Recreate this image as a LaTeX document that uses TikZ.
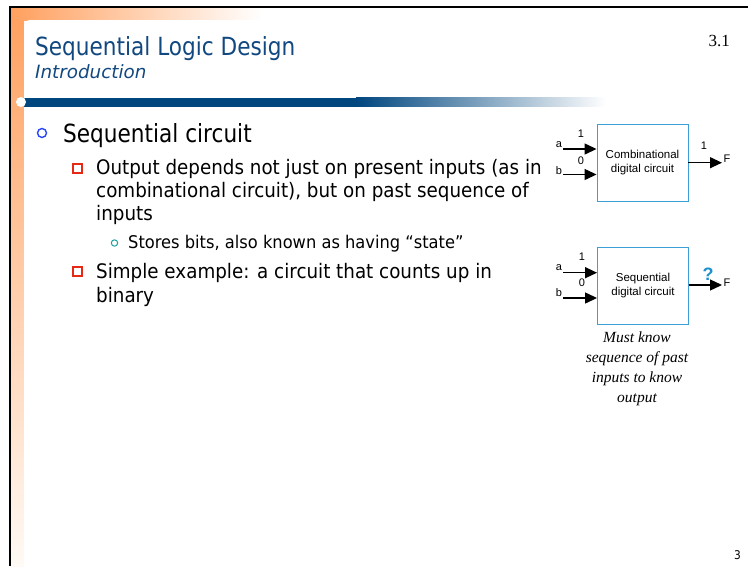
\documentclass[tikz,border=0pt]{standalone}
\usepackage{fontspec}
\setmainfont{DejaVu Sans}[FakeStretch=0.88]
\newfontfamily\headfont{DejaVu Sans}[FakeStretch=0.865]
\newfontfamily\subheadfont{DejaVu Sans}
\newfontfamily\bodyfont{DejaVu Sans}[FakeStretch=0.915]
\newfontfamily\smallbodyfont{DejaVu Sans}[FakeStretch=0.93]
\newfontfamily\arialfont{Liberation Sans}
\newfontfamily\timesfont{Liberation Serif}
\usetikzlibrary{arrows.meta}

\definecolor{orgA}{RGB}{255,160,95}
\definecolor{orgB}{RGB}{255,250,245}
\definecolor{barblue}{RGB}{0,70,127}
\definecolor{titleblue}{RGB}{17,72,128}
\definecolor{bulletblue}{RGB}{40,70,250}
\definecolor{bulletred}{RGB}{230,40,20}
\definecolor{bulletteal}{RGB}{30,160,160}
\definecolor{boxblue}{RGB}{60,160,215}
\definecolor{qblue}{RGB}{30,145,205}

\tikzset{
  txt/.style={anchor=base west, inner sep=0pt, text=black},
  lvlone/.style={txt, font=\headfont\fontsize{25}{30}\selectfont},
  lvltwo/.style={txt, font=\bodyfont\fontsize{20}{24}\selectfont},
  lvlthree/.style={txt, font=\smallbodyfont\fontsize{17.5}{21}\selectfont},
  sqbullet/.style={draw=bulletred, fill=white, line width=1.6pt},
  cbox/.style={draw=boxblue, line width=0.9pt, minimum width=91pt, minimum height=77pt,
    inner sep=0pt, align=center, font=\arialfont\fontsize{11.5}{13.5}\selectfont},
  pinlbl/.style={inner sep=0pt, font=\arialfont\fontsize{11}{13}\selectfont},
  wire/.style={line width=1.3pt, -{Triangle[length=12pt,width=11pt]}},
}

\begin{document}
\begin{tikzpicture}[x=1pt,y=-1pt]
\useasboundingbox (0,0) rectangle (748,566);
\fill[white] (0,0) rectangle (748,566);

% slide frame decoration
\shade[top color=orgA, bottom color=orgB] (11,8) rectangle (24,566);
\shade[left color=orgA, right color=white] (11,8) rectangle (262,20);
\fill[white, rounded corners=6pt] (24,20) rectangle (800,620);
\fill[barblue] (24,97.5) rectangle (356,106.5);
\shade[left color=barblue, right color=white] (356,97) rectangle (606,106.5);
\fill[white] (21,102) circle (5);
\draw[line width=2pt] (9,7) -- (748,7);
\draw[line width=2pt] (10,6) -- (10,566);

% title
\node[anchor=base west, inner sep=0pt, text=titleblue, font=\headfont\fontsize{25}{30}\selectfont] (title) at (35,55) {Sequential Logic Design};
\node[anchor=base west, inner sep=0pt, text=titleblue, font=\subheadfont\fontsize{18.3}{22}\selectfont\itshape] (subtitle) at (35,78) {Introduction};
\node[anchor=base east, inner sep=0pt, font=\timesfont\fontsize{17}{20}\selectfont] (secnum) at (730,46) {3.1};
\node[anchor=base east, inner sep=0pt, font=\fontsize{12}{14}\selectfont] (pagenum) at (741,559) {3};

% bullet list
\draw[bulletblue, line width=1.4pt] (42,133) circle (4.5);
\node[lvlone] (l1) at (63,142) {Sequential circuit};

\draw[sqbullet] (73,164) rectangle (82,173);
\node[lvltwo] (l2a) at (96,174) {Output depends not just on present inputs (as in};
\node[lvltwo] (l2b) at (96,197) {combinational circuit), but on past sequence of};
\node[lvltwo] (l2c) at (96,220) {inputs};

\draw[bulletteal, line width=1pt] (114.5,243) circle (3.2);
\node[lvlthree] (l3) at (128,248) {Stores bits, also known as having “state”};

\draw[sqbullet] (73,267) rectangle (82,276);
\node[lvltwo] (l4a) at (96,278) {Simple example: a circuit that counts up in};
\node[lvltwo] (l4b) at (96,302) {binary};

% combinational block
\node[cbox] (comb) at (642.5,162.5) {Combinational\\digital circuit};
\coordinate (ca) at (563,149);
\coordinate (cb) at (563,174.5);
\coordinate (cf) at (722,162.7);
\draw[wire] (ca) -- (ca -| comb.west);
\draw[wire] (cb) -- (cb -| comb.west);
\draw[wire] (cf -| comb.east) -- (cf);
\node[pinlbl] (cal) at (559,145) {a};
\node[pinlbl] (cbl) at (559,171) {b};
\node[pinlbl] (cav) at (581,134) {1};
\node[pinlbl] (cbv) at (581,161) {0};
\node[pinlbl] (cfv) at (704,146) {1};
\node[pinlbl] (cfl) at (727,159) {F};

% sequential block
\node[cbox] (seq) at (643,285.5) {Sequential\\digital circuit};
\coordinate (sa) at (563,272.7);
\coordinate (sb) at (563,298);
\coordinate (sf) at (722,285);
\draw[wire] (sa) -- (sa -| seq.west);
\draw[wire] (sb) -- (sb -| seq.west);
\draw[wire] (sf -| seq.east) -- (sf);
\node[pinlbl] (sal) at (559,268) {a};
\node[pinlbl] (sbl) at (559,293) {b};
\node[pinlbl] (sav) at (582,257) {1};
\node[pinlbl] (sbv) at (582,283) {0};
\node[inner sep=0pt, text=qblue, font=\arialfont\bfseries\fontsize{18}{20}\selectfont] (sq) at (708,274) {?};
\node[pinlbl] (sfl) at (727,283) {F};

% note under the sequential block (base anchor sits on the last line)
\node[anchor=base, inner sep=0pt, align=center, font=\timesfont\itshape\fontsize{15.5}{20}\selectfont] (note) at (637,402)
  {Must know\\sequence of past\\inputs to know\\output};
\end{tikzpicture}
\end{document}
